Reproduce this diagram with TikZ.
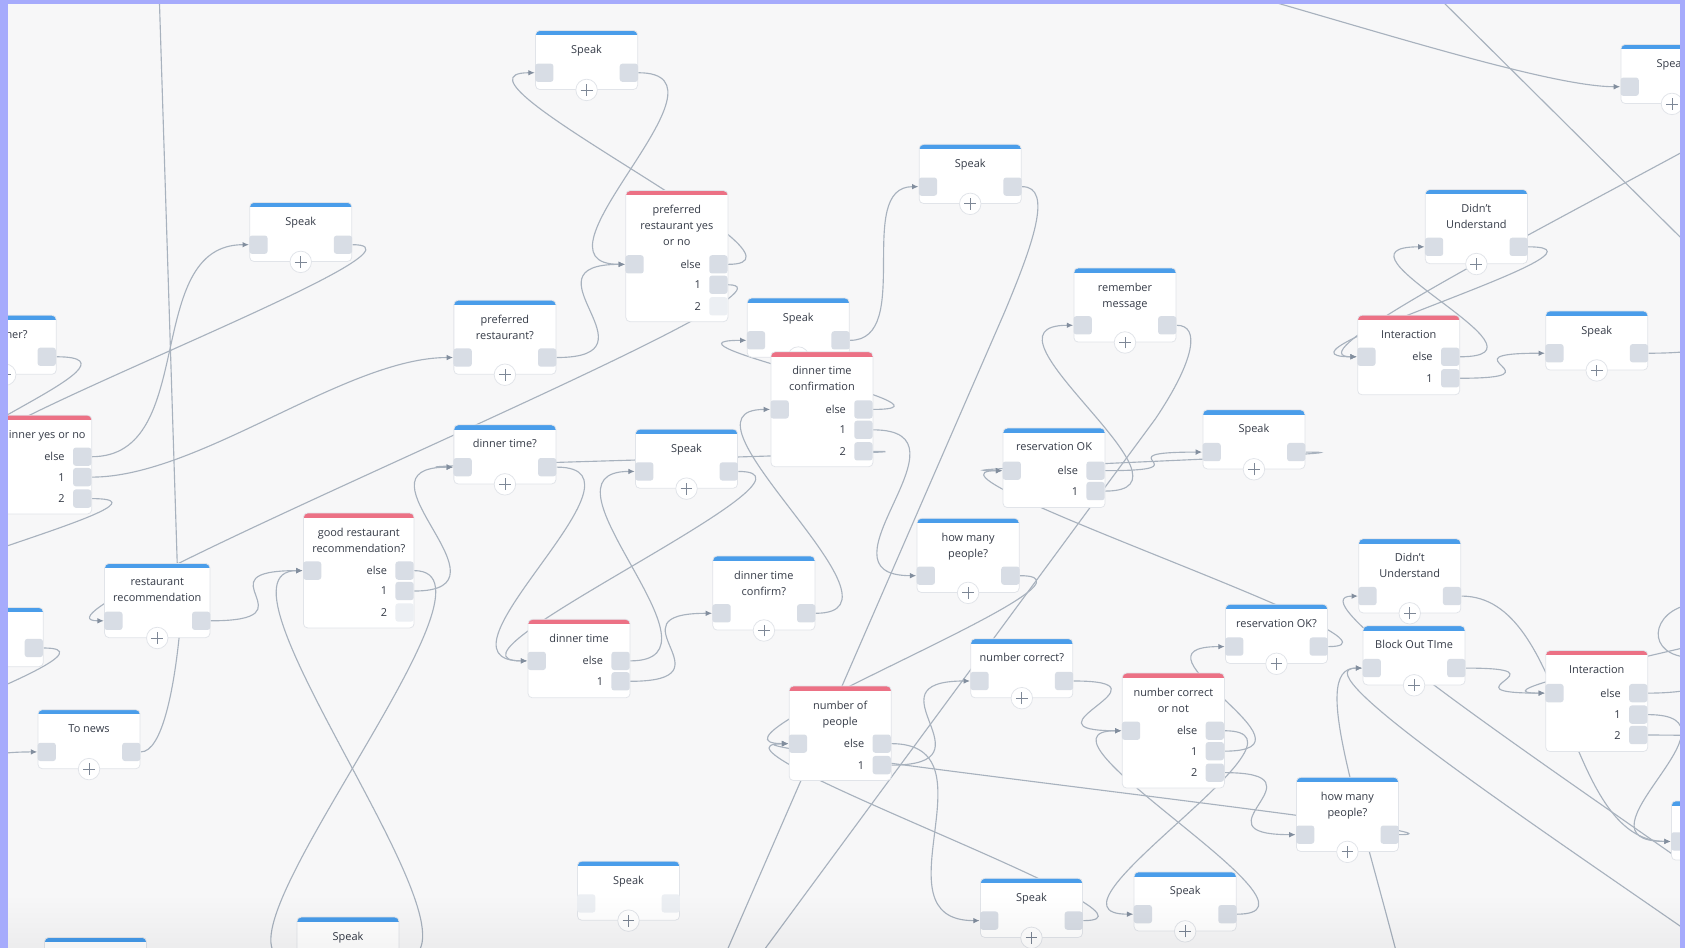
\documentclass[tikz,border=0pt]{standalone}
\usepackage{fontspec}
\setmainfont{Open Sans}
\usetikzlibrary{arrows.meta}

\definecolor{bgcanvas}{RGB}{247,247,248}
\definecolor{windowframe}{RGB}{166,171,252}
\definecolor{topblue}{RGB}{74,157,234}
\definecolor{topred}{RGB}{236,113,133}
\definecolor{boxline}{RGB}{225,228,233}
\definecolor{portfill}{RGB}{216,221,229}
\definecolor{portfree}{RGB}{236,239,243}
\definecolor{wirecol}{RGB}{168,178,190}
\definecolor{tipcol}{RGB}{130,142,158}
\definecolor{inkgray}{RGB}{52,58,70}
\definecolor{pluscol}{RGB}{125,135,150}

\pgfdeclarelayer{bglayer}
\pgfdeclarelayer{wirelayer}
\pgfsetlayers{bglayer,wirelayer,main}

\tikzset{
  blockbox/.style={draw=boxline, line width=0.4pt, fill=white, rounded corners=0.8mm,
    minimum width=19mm, minimum height=11mm, inner sep=0pt, anchor=north west,
    path picture={\fill[#1, sharp corners] (path picture bounding box.north west)
      rectangle ([yshift=-0.9mm]path picture bounding box.north east);}},
  heading/.style={font=\fontsize{5.8}{8.5}\selectfont, text=inkgray, align=center,
    inner sep=0pt, anchor=north},
  portsq/.style={fill=portfill, rounded corners=0.5mm, minimum size=3.4mm, inner sep=0pt},
  freeport/.style={portsq, fill=portfree},
  plusbtn/.style={circle, fill=white, draw=boxline, line width=0.4pt, minimum size=4mm,
    inner sep=0pt, path picture={\draw[pluscol, line width=0.4pt]
      ([xshift=-1.1mm]path picture bounding box.center) -- ([xshift=1.1mm]path picture bounding box.center)
      ([yshift=-1.1mm]path picture bounding box.center) -- ([yshift=1.1mm]path picture bounding box.center);}},
  rowtag/.style={font=\fontsize{5.8}{7}\selectfont, text=inkgray, inner sep=0pt, anchor=east},
  wire/.style={draw=wirecol, line width=0.6pt, -{Latex[length=3.4pt,width=3pt,color=tipcol]}}
}

% simple block: [options] name, left, top, title
\newcommand{\sblk}[5][]{%
  \node[blockbox=topblue, #1] (#2) at (#3,#4) {};
  \node[heading] (#2-t) at ([yshift=-2.75mm]#2.north) {#5};
  \node[portsq] (#2-in) at ([xshift=1.7mm,yshift=3.2mm]#2.south west) {};
  \node[portsq] (#2-out) at ([xshift=-1.7mm,yshift=3.2mm]#2.south east) {};
  \node[plusbtn] (#2-p) at (#2.south) {};}
% decision block: [options] name, left, top, colour, title
\newcommand{\cblk}[6][]{%
  \node[blockbox=#5, #1] (#2) at (#3,#4) {};
  \node[heading] (#2-t) at ([yshift=-2.75mm]#2.north) {#6};}
\newcommand{\inport}[3]{\node[portsq] (#1-in) at (#2+8.5,#3) {};}
\newcommand{\outrow}[5][portsq]{%
  \node[#1] (#2-#3) at (#4-8.5,#5) {};
  \node[rowtag] (#2-#3-l) at (#4-24.5,#5) {#3};}
% link from an output port to an input port
\newcommand{\wire}[3][100]{\draw[wire] (#2.east) .. controls +(#1,0) and +(-#1,0) .. (#3.west);}

\begin{document}
\begin{tikzpicture}[x=0.2mm, y=-0.2mm]
  \useasboundingbox (0,0) rectangle (1568,882);
  \clip (0,0) rectangle (1568,882);
  \begin{pgfonlayer}{bglayer}
    \fill[bgcanvas] (0,0) rectangle (1568,882);
  \end{pgfonlayer}

  % Speak and question blocks
  \sblk{spA}{232}{188}{Speak}
  \sblk{spB}{498}{28}{Speak}
  \sblk{spC}{855}{134}{Speak}
  \sblk{spD}{695}{277}{Speak}
  \sblk[minimum height=13.8mm]{prefR}{422}{279}{preferred\\restaurant?}
  \sblk[minimum height=13.8mm]{rem}{999}{249}{remember\\message}
  \sblk[minimum height=13.8mm]{du1}{1326}{176}{Didn't\\Understand}
  \sblk{spR}{1438}{289}{Speak}
  \sblk{spTR}{1508}{41}{Spea\phantom{k}}
  \sblk{dtq}{422}{395}{dinner time?}
  \sblk{spE}{591}{399}{Speak}
  \sblk{spF}{1119}{381}{Speak}
  \sblk[minimum height=13.8mm, minimum width=19.6mm]{rr}{97}{524}{restaurant\\recommendation}
  \sblk{tonews}{35}{660}{To news}
  \sblk[minimum height=13.8mm]{dtcq}{663}{517}{dinner time\\confirm?}
  \sblk[minimum height=13.8mm]{hmp1}{853}{482}{how many\\people?}
  \sblk{ncq}{903}{594}{number correct?}
  \sblk{resq}{1140}{562}{reservation OK?}
  \sblk[minimum height=13.8mm]{du2}{1264}{501}{Didn't\\Understand}
  \sblk{bot}{1268}{582}{Block Out TIme}
  \sblk[minimum height=13.8mm]{hmp2}{1206}{723}{how many\\people?}
  \sblk{spH}{912}{817}{Speak}
  \sblk{spI}{1055}{811}{Speak}
  \sblk{spBot}{276}{853}{Speak}

  % unused Speak block
  \node[blockbox=topblue] (spG) at (537,801) {};
  \node[heading] (spG-t) at ([yshift=-2.75mm]spG.north) {Speak};
  \node[freeport] (spG-in) at ([xshift=1.7mm,yshift=3.2mm]spG.south west) {};
  \node[freeport] (spG-out) at ([xshift=-1.7mm,yshift=3.2mm]spG.south east) {};
  \node[plusbtn] (spG-p) at (spG.south) {};

  % blocks cut by the window edge
  \node[blockbox=topblue] (ner) at (-43,293) {};
  \node[heading, anchor=north east] (ner-t) at (26,307) {ner?};
  \node[portsq] (ner-out) at (43.5,332) {};
  \node[plusbtn] (ner-p) at (ner.south) {};
  \node[blockbox=topblue] (n21) at (-55,565) {};
  \node[portsq] (n21-out) at (31.5,603) {};
  \node[blockbox=topblue] (bl) at (41,872) {};
  \node[blockbox=topblue] (n39) at (1555,745) {};
  \node[portsq] (n39-in) at (1563.5,783) {};

  % decision blocks
  \node[blockbox=topred, minimum height=18.4mm] (dyn) at (-10,386) {};
  \node[heading, anchor=north east] (dyn-t) at (80,400) {inner yes or no};
  \inport{dyn}{-10}{425}
  \outrow{dyn}{else}{85}{425}
  \outrow{dyn}{1}{85}{444}
  \outrow{dyn}{2}{85}{464}

  \cblk[minimum height=24.4mm]{pryn}{582}{177}{topred}{preferred\\restaurant yes\\or no}
  \inport{pryn}{582}{246}
  \outrow{pryn}{else}{677}{246}
  \outrow{pryn}{1}{677}{265}
  \outrow[freeport]{pryn}{2}{677}{285}

  \cblk[minimum height=21.4mm]{dtc}{717}{327}{topred}{dinner time\\confirmation}
  \inport{dtc}{717}{381}
  \outrow{dtc}{else}{812}{381}
  \outrow{dtc}{1}{812}{400}
  \outrow{dtc}{2}{812}{420}

  \cblk[minimum height=14.8mm]{int1}{1263}{293}{topred}{Interaction}
  \inport{int1}{1263}{332}
  \outrow{int1}{else}{1358}{332}
  \outrow{int1}{1}{1358}{352}

  \cblk[minimum height=14.8mm]{resok}{933}{398}{topblue}{reservation OK}
  \inport{resok}{933}{438}
  \outrow{resok}{else}{1028}{438}
  \outrow{resok}{1}{1028}{457}

  \cblk[minimum height=21.4mm, minimum width=20.6mm]{gr}{282}{477}{topred}{good restaurant\\recommendation?}
  \inport{gr}{282}{531}
  \outrow{gr}{else}{385}{531}
  \outrow{gr}{1}{385}{550}
  \outrow[freeport]{gr}{2}{385}{570}

  \cblk[minimum height=14.6mm]{dt}{491}{576}{topred}{dinner time}
  \inport{dt}{491}{615}
  \outrow{dt}{else}{586}{615}
  \outrow{dt}{1}{586}{634}

  \cblk[minimum height=17.6mm]{nop}{734}{638}{topred}{number of\\people}
  \inport{nop}{734}{692}
  \outrow{nop}{else}{829}{692}
  \outrow{nop}{1}{829}{712}

  \cblk[minimum height=21.4mm]{ncn}{1044}{626}{topred}{number correct\\or not}
  \inport{ncn}{1044}{680}
  \outrow{ncn}{else}{1139}{680}
  \outrow{ncn}{1}{1139}{699}
  \outrow{ncn}{2}{1139}{719}

  \cblk[minimum height=18.8mm]{int2}{1438}{605}{topred}{Interaction}
  \inport{int2}{1438}{645}
  \outrow{int2}{else}{1533}{645}
  \outrow{int2}{1}{1533}{665}
  \outrow{int2}{2}{1533}{684}

  % ends of links outside the window
  \coordinate (offL1) at (-50,545);
  \coordinate (offL2) at (-190,740);
  \coordinate (offL3) at (-120,740);
  \coordinate (offTop) at (148,-10);
  \coordinate (offB1) at (672,895);
  \coordinate (offB2) at (700,899);
  \coordinate (offB3) at (1318,960);
  \coordinate (offT1) at (950,-52);
  \coordinate (offT2a) at (1337,-4);
  \coordinate (offT2b) at (1580,237);
  \coordinate (offR1) at (1760,10);
  \coordinate (offR2) at (1720,300);
  \coordinate (offR3) at (1800,1060);
  \coordinate (offR4) at (1800,1000);
  \coordinate (offR5) at (1700,600);
  \coordinate (offR6) at (1720,690);
  \coordinate (offR7) at (1700,560);
  \coordinate (offR8) at (1575,562);
  \coordinate (offR9) at (1580,612);

  % links, behind the blocks
  \begin{pgfonlayer}{wirelayer}
  \begin{scope}
    \clip (0,0) rectangle (1568,882);
    \wire{ner-out}{dyn-in}
    \wire{spA-out}{dyn-in}
    \wire{dyn-else}{spA-in}
    \wire{dyn-1}{prefR-in}
    \draw[wire] (dyn-2.east) .. controls +(100,0) and +(-100,0) .. (offL1);
    \draw[wire] (n21-out.east) .. controls +(100,0) and +(-100,0) .. (offL2);
    \draw[wire] (offL3) .. controls +(100,0) and +(-100,0) .. (tonews-in.west);
    \draw[wire] (tonews-out.east) .. controls +(20,0) and (162,640) .. (167,590) -- (offTop);
    \wire{rr-out}{gr-in}
    \wire{gr-else}{spBot-in}
    \wire{spBot-out}{gr-in}
    \wire{gr-1}{dtq-in}
    \wire{prefR-out}{pryn-in}
    \wire{spB-out}{pryn-in}
    \wire{pryn-else}{spB-in}
    \wire{pryn-1}{rr-in}
    \wire{dtq-out}{dt-in}
    \wire{spE-out}{dt-in}
    \wire{dt-else}{spE-in}
    \wire{dt-1}{dtcq-in}
    \wire{dtcq-out}{dtc-in}
    \wire{dtc-else}{spD-in}
    \wire{dtc-1}{hmp1-in}
    \wire{dtc-2}{dtq-in}
    \wire[60]{spD-out}{spC-in}
    \draw[wire] (spC-out.east) .. controls +(30,0) and (960,230) .. (935,290) -- (offB1);
    \draw[wire] (rem-out.east) .. controls +(22,0) and (1112,335) .. (1075,390) -- (offB2);
    \wire{resok-else}{spF-in}
    \wire{resok-1}{rem-in}
    \wire{spF-out}{resok-in}
    \wire{resq-out}{resok-in}
    \wire{hmp1-out}{nop-in}
    \wire{nop-else}{spH-in}
    \wire{nop-1}{ncq-in}
    \wire{spH-out}{nop-in}
    \wire{hmp2-out}{nop-in}
    \wire{ncq-out}{ncn-in}
    \wire{ncn-else}{spI-in}
    \wire{ncn-1}{resq-in}
    \wire{ncn-2}{hmp2-in}
    \wire{spI-out}{ncn-in}
    \draw[wire] (offT1) .. controls +(100,0) and +(-100,0) .. (spTR-in.west);
    \draw[wire] (offT2a) -- (offT2b);
    \wire{int1-else}{du1-in}
    \wire{du1-out}{int1-in}
    \draw[wire] (offR1) .. controls +(100,0) and +(-100,0) .. (int1-in.west);
    \wire{int1-1}{spR-in}
    \draw[wire] (spR-out.east) .. controls +(100,0) and +(-100,0) .. (offR2);
    \wire{bot-out}{int2-in}
    \draw[wire] (offB3) .. controls (1270,760) and (1215,621) .. (bot-in.west);
    \draw[wire] (offR3) .. controls +(100,0) and +(-100,0) .. (bot-in.west);
    \draw[wire] (offR4) .. controls +(100,0) and +(-100,0) .. (du2-in.west);
    \wire{du2-out}{n39-in}
    \wire{int2-1}{n39-in}
    \draw[wire] (int2-else.east) .. controls +(100,0) and +(-100,0) .. (offR5);
    \draw[wire] (int2-2.east) .. controls +(100,0) and +(-100,0) .. (offR6);
    \draw[wire] (offR7) .. controls +(100,0) and +(-100,0) .. (int2-in.west);
    \draw[wire] (offR8) .. controls (1535,568) and (1530,611) .. (offR9);
  \end{scope}
  \end{pgfonlayer}

  % soft shadow at the bottom and the window frame
  \foreach \k in {0,...,9}
    \fill[black, opacity=0.005] (7,836+4.6*\k) rectangle (1563,882);
  \fill[windowframe] (0,0) rectangle (7,882);
  \fill[windowframe] (0,0) rectangle (1568,4);
  \fill[windowframe] (1563,0) rectangle (1568,882);
\end{tikzpicture}
\end{document}
